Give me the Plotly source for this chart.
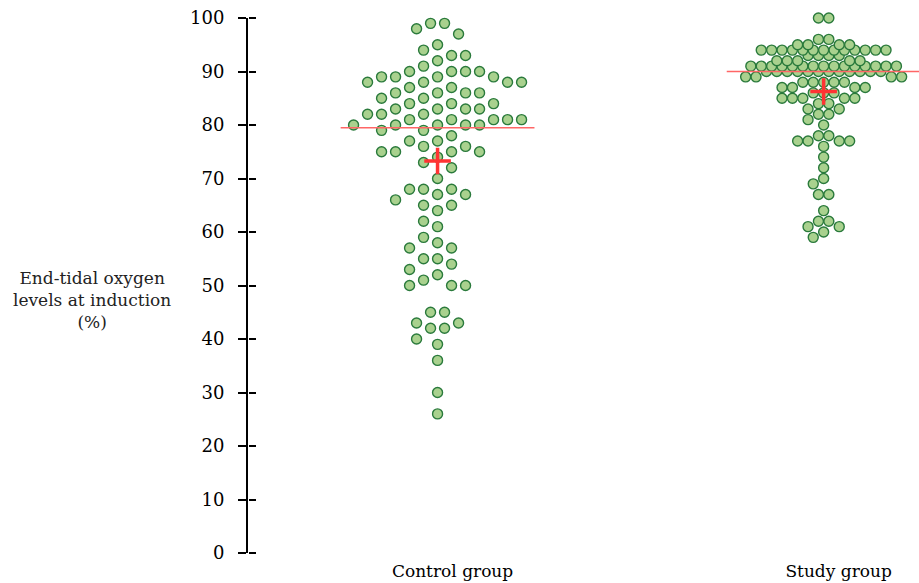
import numpy as np
import plotly.graph_objects as go

# ---------------- data ----------------
categories = ["Control group", "Study group"]

control_values = [
    99, 99, 98, 97, 95, 94, 93, 93, 92, 91,
    90, 90, 90, 90, 89, 89, 89, 89, 88, 88, 88, 88, 87, 87,
    86, 86, 86, 86, 85, 85, 84, 84, 84, 83, 83, 83, 83, 82, 82, 82,
    81, 81, 81, 81, 81, 80, 80, 80, 80, 80,
    79, 79, 78, 77, 77, 76, 76, 75, 75, 75, 75, 74, 73, 72, 70,
    68, 68, 68, 67, 67, 66, 65, 65, 64, 62, 61, 59, 58, 57, 57,
    55, 55, 54, 53, 52, 51, 50, 50, 50, 45, 45, 43, 43, 42, 42,
    40, 39, 36, 30, 26,
]

study_values = (
    [100] * 2 + [96] * 2 + [95] * 4 + [94] * 13 + [93] * 4 + [92] * 5 +
    [91] * 15 + [90] * 12 + [89] * 4 + [88] * 5 + [87] * 4 + [86] * 3 +
    [85] * 5 + [84] * 2 + [83] * 2 + [82] * 2 + [81] + [80] + [78] * 2 +
    [77] * 4 + [76] + [74] + [72] + [70] + [69] + [67] * 2 + [64] +
    [62] * 2 + [61] * 2 + [60] + [59]
)

y_ticks = list(range(0, 101, 10))
y_title = "End-tidal oxygen<br>levels at induction<br>(%)"

# ---------------- layout constants ----------------
W, H = 919, 583
M_L, M_R, M_T, M_B = 248, 0, 18, 30
X_RANGE = [-0.491, 1.247]
Y_RANGE = [0, 100]
PX_PER_X = (W - M_L - M_R) / (X_RANGE[1] - X_RANGE[0])
PX_PER_Y = (H - M_T - M_B) / (Y_RANGE[1] - Y_RANGE[0])

FILL = "#a9d18e"
EDGE = "#2a7a3c"
RED_LINE = "#ff6666"
RED_CROSS = "#ff3333"
FONT = "DejaVu Serif"


def swarm_offsets(values, slot_px, max_slot):
    """Grid beeswarm: rows of equal values placed top-down on slots of
    width slot_px, avoiding collisions with rows already placed.  A row that
    cannot fit collision-free within +-max_slot is packed centred
    (overlapping)."""
    vals = np.asarray(values, dtype=float)
    offsets = np.zeros(len(vals))
    placed = []
    prev_bias = 0.0
    for v in sorted(set(vals.tolist()), reverse=True):
        idx = np.where(vals == v)[0]
        n = len(idx)
        y = v * PX_PER_Y
        side = 1.0 if prev_bias < 0 else -1.0   # go opposite to last row

        def free(k):
            x = k * slot_px
            return all((px - x) ** 2 + (py - y) ** 2 >= slot_px ** 2 - 1e-6
                       for (py, px) in placed)

        best = None
        pref_parity = 0.5 if n % 2 == 0 else 0.0
        for parity in (0.0, 0.5):
            ks = [k + parity for k in range(-int(max_slot) - 1, int(max_slot) + 2)]
            ks = sorted([k for k in ks if abs(k) <= max_slot and free(k)],
                        key=lambda k: (abs(k), -side * k))
            if len(ks) >= n:
                cost = (sum(abs(k) for k in ks[:n]),
                        0 if parity == pref_parity else 1)
                if best is None or cost < best[0]:
                    best = (cost, ks[:n])
        if best is None:  # pack centred, overlap allowed
            chosen = [k - (n - 1) / 2.0 for k in range(n)]
        else:
            chosen = best[1]
        for i, k in zip(idx, sorted(chosen)):
            offsets[i] = k * slot_px
            placed.append((y, k * slot_px))
        prev_bias = float(np.sum(chosen))
    return offsets / PX_PER_X


groups = [
    (control_values, swarm_offsets(control_values, 14.0, 7.5)),
    (study_values, swarm_offsets(study_values, 10.4, 7.5)),
]

fig = go.Figure()

for gi, (vals, offs) in enumerate(groups):
    vals = np.asarray(vals, dtype=float)
    order = np.argsort(vals, kind="stable")  # low values drawn first
    fig.add_trace(go.Scatter(
        x=(gi + offs)[order], y=vals[order], mode="markers",
        marker=dict(size=10, color=FILL, line=dict(color=EDGE, width=1.4)),
        cliponaxis=False, showlegend=False, hoverinfo="y",
    ))

for gi, (vals, offs) in enumerate(groups):
    med = float(np.median(vals))
    fig.add_trace(go.Scatter(
        x=[gi - 0.251, gi + 0.251], y=[med, med], mode="lines",
        line=dict(color=RED_LINE, width=1.6), cliponaxis=False,
        showlegend=False, hoverinfo="skip",
    ))

for gi, (vals, offs) in enumerate(groups):
    mean = float(np.mean(vals))
    fig.add_trace(go.Scatter(
        x=[gi], y=[mean], mode="markers",
        marker=dict(symbol="cross-thin", size=19,
                    line=dict(color=RED_CROSS, width=3.5)),
        cliponaxis=False, showlegend=False, hoverinfo="y",
    ))

# invisible trace on the overlay axis (tick marks pointing into the plot)
fig.add_trace(go.Scatter(x=[0], y=[0], yaxis="y2", mode="markers",
                         marker=dict(opacity=0), showlegend=False,
                         hoverinfo="skip"))

fig.update_layout(
    width=W, height=H,
    margin=dict(l=M_L, r=M_R, t=M_T, b=M_B, pad=0),
    paper_bgcolor="white", plot_bgcolor="white",
    font=dict(family=FONT, color="black"),
    xaxis=dict(
        range=X_RANGE, tickvals=[0, 1], ticktext=categories,
        showline=False, ticks="", showgrid=False, zeroline=False,
        tickfont=dict(family=FONT, size=17, color="black"),
        ticklabelshift=15, ticklabelstandoff=6, fixedrange=True,
    ),
    yaxis=dict(
        range=Y_RANGE, tickvals=y_ticks, ticks="outside", ticklen=8,
        tickwidth=2, tickcolor="black", showline=True, linewidth=2,
        linecolor="black", showgrid=False, zeroline=False,
        tickfont=dict(family=FONT, size=18, color="black"),
        ticklabelstandoff=10, fixedrange=True,
    ),
    yaxis2=dict(
        range=Y_RANGE, overlaying="y", side="right", anchor="free",
        position=0, tickvals=y_ticks, ticks="outside", ticklen=7,
        tickwidth=2, tickcolor="black", showticklabels=False,
        showline=False, showgrid=False, zeroline=False, fixedrange=True,
    ),
    annotations=[dict(
        text=y_title, xref="paper", yref="paper",
        x=(92 - M_L) / (W - M_L - M_R), y=0.473,
        xanchor="center", yanchor="middle", align="center",
        showarrow=False, font=dict(family=FONT, size=17, color="#222"),
    )],
)

fig.write_html("out.html")
